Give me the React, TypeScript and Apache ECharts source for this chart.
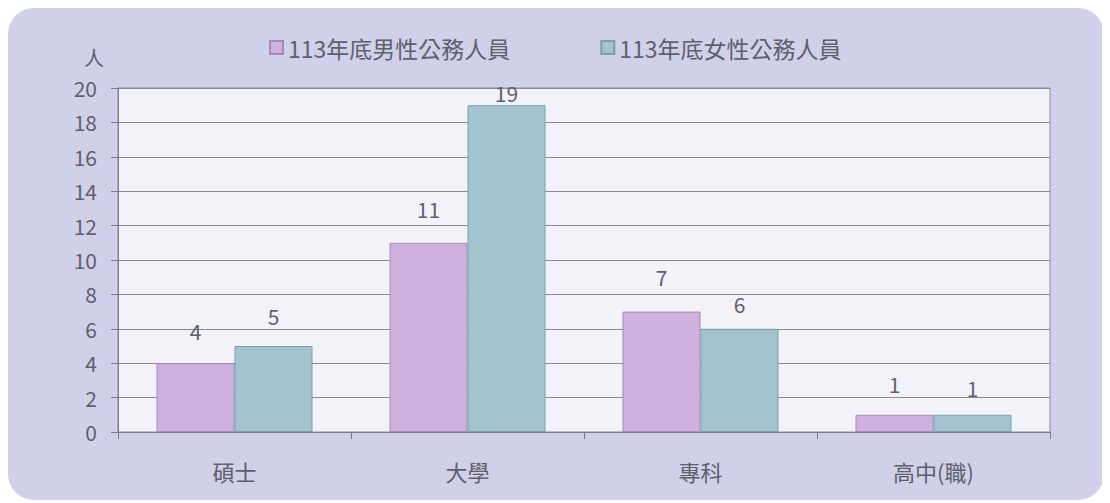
import React, { useEffect, useRef } from "react";
import * as echarts from "echarts";

const categories = ["碩士", "大學", "專科", "高中(職)"];
const maleValues = [4, 11, 7, 1];
const femaleValues = [5, 19, 6, 1];
const seriesNames = ["113年底男性公務人員", "113年底女性公務人員"];
const yTicks = { min: 0, max: 20, interval: 2 };
const labelDistMale = [22, 23, 24, 20];
const labelDistFemale = [20, 2, 14, 16];

export default function App() {
  const ref = useRef<HTMLDivElement>(null);
  useEffect(() => {
    if (!ref.current) return;
    const chart = echarts.init(ref.current, null, { renderer: "svg" });
    const font = "'Noto Sans CJK TC', 'Noto Sans', sans-serif";
    const mk = (vals: number[], dists: number[]) =>
      vals.map((v, i) => ({ value: v, label: { distance: dists[i] } }));
    chart.setOption({
      animation: false,
      textStyle: { fontFamily: font },
      legend: {
        left: 256,
        top: 23,
        itemWidth: 13,
        itemHeight: 13,
        itemGap: 90,
        icon: "rect",
        textStyle: { fontSize: 23, color: "#5f5f6e", fontFamily: font },
        data: seriesNames,
      },
      grid: {
        left: 110,
        right: 54,
        top: 80,
        bottom: 68,
        show: true,
        backgroundColor: "#f3f2f8",
        borderColor: "#8a8a90",
        borderWidth: 1,
      },
      xAxis: {
        type: "category",
        data: categories,
        axisLine: { lineStyle: { color: "#7a7a85", width: 1 } },
        axisTick: { show: true, length: 7, lineStyle: { color: "#7a7a85" } },
        axisLabel: { margin: 28, fontSize: 22, color: "#5f5f6e", fontFamily: font },
      },
      yAxis: {
        type: "value",
        min: yTicks.min,
        max: yTicks.max,
        interval: yTicks.interval,
        name: "人",
        nameLocation: "end",
        nameGap: 21,
        nameTextStyle: { fontSize: 20, color: "#5f5f6e", align: "right", padding: [0, 14, 0, 0] },
        axisLine: { show: true, lineStyle: { color: "#7a7a85" } },
        axisTick: { show: true, length: 7, lineStyle: { color: "#7a7a85" } },
        axisLabel: { margin: 21, fontSize: 21, color: "#5f5f6e" },
        splitLine: { lineStyle: { color: "#8a8a90", width: 1 } },
      },
      series: [
        {
          name: seriesNames[0],
          type: "bar",
          data: mk(maleValues, labelDistMale),
          barWidth: 78,
          barGap: "0%",
          itemStyle: { color: "#d0b0de", borderColor: "#a58ab5", borderWidth: 1 },
          label: { show: true, position: "top", fontSize: 21, color: "#5f5f6e" },
        },
        {
          name: seriesNames[1],
          type: "bar",
          data: mk(femaleValues, labelDistFemale),
          barWidth: 78,
          barGap: "0%",
          itemStyle: { color: "#a3c3ce", borderColor: "#78a0ad", borderWidth: 1 },
          label: { show: true, position: "top", fontSize: 21, color: "#5f5f6e" },
        },
      ],
    });
    return () => chart.dispose();
  }, []);
  return (
    <div
      ref={ref}
      style={{ width: 1096, height: 492, background: "#d0d0ea", borderRadius: 26 }}
    />
  );
}
